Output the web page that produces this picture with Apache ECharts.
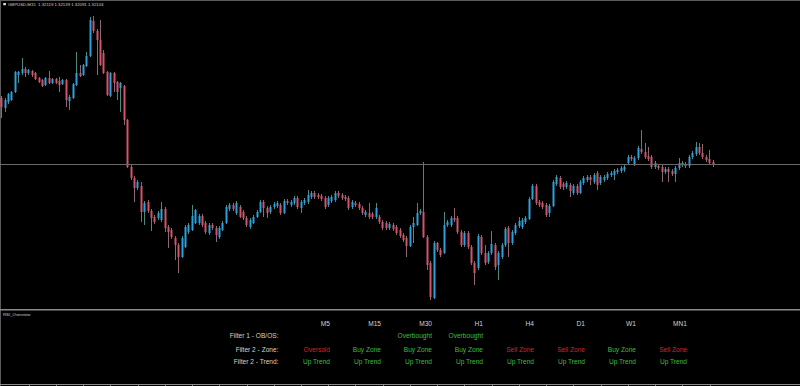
<!DOCTYPE html>
<html><head><meta charset="utf-8">
<script src="https://cdn.jsdelivr.net/npm/echarts@6/dist/echarts.min.js"></script>
<style>html,body{margin:0;padding:0;background:#000;}#c{width:800px;height:386px;}</style>
</head><body><div id="c"></div>
<script>
// ---- Data (GBPUSD M15 bars) ----
const openP = [
1.32402,1.32392,1.32398,1.32400,1.32408,1.32425,1.32427,1.32431,1.32427,1.32429,
1.32427,1.32422,1.32420,1.32415,1.32422,1.32417,1.32421,1.32419,1.32416,1.32420,
1.32399,1.32402,1.32415,1.32427,1.32425,1.32434,1.32444,1.32479,1.32469,1.32460,
1.32447,1.32428,1.32404,1.32427,1.32418,1.32412,1.32414,1.32380,1.32333,1.32322,
1.32312,1.32314,1.32288,1.32298,1.32289,1.32283,1.32282,1.32280,1.32291,1.32273,
1.32270,1.32262,1.32255,1.32243,1.32253,1.32268,1.32270,1.32277,1.32277,1.32284,
1.32277,1.32267,1.32275,1.32272,1.32263,1.32270,1.32277,1.32291,1.32295,1.32287,
1.32293,1.32288,1.32282,1.32273,1.32277,1.32283,1.32288,1.32298,1.32292,1.32288,
1.32293,1.32294,1.32295,1.32287,1.32299,1.32295,1.32297,1.32302,1.32292,1.32297,
1.32298,1.32303,1.32307,1.32305,1.32304,1.32302,1.32295,1.32299,1.32300,1.32307,
1.32305,1.32303,1.32302,1.32293,1.32297,1.32296,1.32292,1.32285,1.32287,1.32286,
1.32283,1.32283,1.32278,1.32277,1.32272,1.32275,1.32273,1.32270,1.32265,1.32262,
1.32254,1.32273,1.32275,1.32287,1.32288,1.32263,1.32237,1.32202,1.32257,1.32250,
1.32247,1.32275,1.32275,1.32282,1.32282,1.32268,1.32255,1.32267,1.32253,1.32237,
1.32232,1.32263,1.32247,1.32238,1.32247,1.32255,1.32235,1.32243,1.32255,1.32272,
1.32257,1.32267,1.32274,1.32273,1.32278,1.32281,1.32301,1.32314,1.32298,1.32297,
1.32295,1.32287,1.32294,1.32316,1.32322,1.32316,1.32313,1.32315,1.32307,1.32314,
1.32307,1.32317,1.32320,1.32323,1.32318,1.32327,1.32317,1.32320,1.32322,1.32325,
1.32325,1.32328,1.32329,1.32330,1.32337,1.32343,1.32336,1.32342,1.32351,1.32348,
1.32344,1.32343,1.32333,1.32334,1.32333,1.32328,1.32331,1.32329,1.32326,1.32332,
1.32335,1.32336,1.32334,1.32343,1.32346,1.32353,1.32347,1.32343,1.32341,1.32338];
const closeP = [
1.32393,1.32400,1.32406,1.32408,1.32428,1.32428,1.32431,1.32427,1.32430,1.32425,
1.32421,1.32418,1.32414,1.32422,1.32417,1.32421,1.32417,1.32415,1.32420,1.32400,
1.32403,1.32416,1.32427,1.32424,1.32435,1.32444,1.32480,1.32469,1.32460,1.32435,
1.32427,1.32405,1.32427,1.32417,1.32408,1.32417,1.32380,1.32333,1.32322,1.32312,
1.32318,1.32288,1.32297,1.32289,1.32282,1.32278,1.32287,1.32291,1.32272,1.32268,
1.32263,1.32255,1.32243,1.32262,1.32273,1.32275,1.32284,1.32290,1.32284,1.32275,
1.32268,1.32275,1.32272,1.32265,1.32272,1.32277,1.32293,1.32295,1.32291,1.32297,
1.32283,1.32282,1.32275,1.32280,1.32283,1.32288,1.32298,1.32292,1.32287,1.32293,
1.32296,1.32297,1.32287,1.32299,1.32297,1.32298,1.32302,1.32293,1.32298,1.32300,
1.32305,1.32307,1.32303,1.32303,1.32301,1.32293,1.32302,1.32303,1.32307,1.32304,
1.32302,1.32301,1.32292,1.32298,1.32295,1.32292,1.32287,1.32288,1.32283,1.32283,
1.32292,1.32278,1.32272,1.32272,1.32276,1.32271,1.32267,1.32264,1.32260,1.32254,
1.32273,1.32277,1.32287,1.32289,1.32263,1.32235,1.32203,1.32257,1.32250,1.32245,
1.32275,1.32278,1.32282,1.32280,1.32268,1.32255,1.32267,1.32253,1.32237,1.32227,
1.32264,1.32247,1.32237,1.32247,1.32256,1.32233,1.32247,1.32255,1.32271,1.32257,
1.32268,1.32275,1.32279,1.32280,1.32282,1.32301,1.32314,1.32297,1.32295,1.32293,
1.32285,1.32294,1.32318,1.32323,1.32313,1.32313,1.32317,1.32309,1.32314,1.32307,
1.32318,1.32322,1.32323,1.32320,1.32325,1.32315,1.32323,1.32323,1.32326,1.32327,
1.32329,1.32330,1.32332,1.32333,1.32343,1.32341,1.32342,1.32352,1.32348,1.32343,
1.32341,1.32333,1.32337,1.32332,1.32328,1.32331,1.32328,1.32326,1.32332,1.32337,
1.32337,1.32334,1.32343,1.32347,1.32353,1.32347,1.32343,1.32340,1.32337,1.32336];
const highP = [
1.32404,1.32402,1.32407,1.32409,1.32429,1.32429,1.32442,1.32433,1.32431,1.32430,
1.32428,1.32423,1.32421,1.32423,1.32429,1.32422,1.32422,1.32423,1.32421,1.32421,
1.32405,1.32417,1.32448,1.32435,1.32436,1.32448,1.32483,1.32484,1.32471,1.32480,
1.32450,1.32429,1.32428,1.32428,1.32419,1.32418,1.32415,1.32381,1.32335,1.32324,
1.32320,1.32318,1.32299,1.32300,1.32291,1.32285,1.32289,1.32298,1.32293,1.32275,
1.32272,1.32264,1.32257,1.32264,1.32275,1.32277,1.32295,1.32291,1.32286,1.32286,
1.32279,1.32277,1.32277,1.32274,1.32274,1.32279,1.32295,1.32297,1.32297,1.32299,
1.32295,1.32290,1.32284,1.32282,1.32285,1.32290,1.32300,1.32300,1.32294,1.32295,
1.32298,1.32299,1.32297,1.32301,1.32301,1.32300,1.32304,1.32304,1.32300,1.32302,
1.32310,1.32309,1.32309,1.32307,1.32306,1.32304,1.32304,1.32305,1.32309,1.32309,
1.32307,1.32305,1.32304,1.32300,1.32299,1.32298,1.32294,1.32290,1.32297,1.32288,
1.32297,1.32285,1.32280,1.32279,1.32278,1.32277,1.32275,1.32272,1.32267,1.32264,
1.32275,1.32283,1.32297,1.32291,1.32338,1.32265,1.32239,1.32259,1.32258,1.32252,
1.32288,1.32280,1.32284,1.32292,1.32284,1.32270,1.32269,1.32269,1.32255,1.32239,
1.32266,1.32265,1.32255,1.32249,1.32269,1.32257,1.32249,1.32257,1.32273,1.32274,
1.32270,1.32277,1.32283,1.32282,1.32284,1.32303,1.32316,1.32316,1.32300,1.32299,
1.32297,1.32296,1.32320,1.32325,1.32324,1.32318,1.32319,1.32317,1.32316,1.32316,
1.32320,1.32324,1.32325,1.32325,1.32327,1.32329,1.32325,1.32325,1.32328,1.32329,
1.32331,1.32332,1.32334,1.32335,1.32345,1.32345,1.32344,1.32354,1.32370,1.32357,
1.32353,1.32345,1.32339,1.32336,1.32335,1.32333,1.32333,1.32331,1.32334,1.32342,
1.32339,1.32338,1.32345,1.32349,1.32358,1.32357,1.32356,1.32345,1.32350,1.32340];
const lowP = [
1.32382,1.32388,1.32396,1.32399,1.32407,1.32417,1.32425,1.32423,1.32425,1.32423,
1.32420,1.32417,1.32413,1.32414,1.32416,1.32416,1.32416,1.32408,1.32415,1.32393,
1.32390,1.32401,1.32414,1.32423,1.32424,1.32433,1.32443,1.32467,1.32425,1.32434,
1.32426,1.32404,1.32403,1.32408,1.32400,1.32388,1.32375,1.32332,1.32320,1.32298,
1.32310,1.32278,1.32275,1.32287,1.32269,1.32276,1.32280,1.32278,1.32268,1.32252,
1.32261,1.32240,1.32227,1.32242,1.32252,1.32266,1.32269,1.32276,1.32275,1.32273,
1.32266,1.32265,1.32270,1.32258,1.32261,1.32269,1.32276,1.32289,1.32289,1.32285,
1.32282,1.32280,1.32273,1.32271,1.32276,1.32282,1.32287,1.32283,1.32282,1.32286,
1.32291,1.32292,1.32285,1.32286,1.32295,1.32293,1.32295,1.32291,1.32287,1.32295,
1.32296,1.32301,1.32301,1.32301,1.32299,1.32291,1.32293,1.32297,1.32298,1.32302,
1.32300,1.32299,1.32290,1.32291,1.32293,1.32290,1.32285,1.32283,1.32281,1.32281,
1.32281,1.32276,1.32270,1.32270,1.32270,1.32269,1.32265,1.32262,1.32258,1.32243,
1.32253,1.32257,1.32274,1.32285,1.32262,1.32230,1.32200,1.32201,1.32248,1.32243,
1.32246,1.32273,1.32273,1.32278,1.32266,1.32253,1.32253,1.32251,1.32235,1.32215,
1.32230,1.32245,1.32235,1.32236,1.32245,1.32230,1.32220,1.32241,1.32253,1.32243,
1.32255,1.32265,1.32272,1.32271,1.32276,1.32280,1.32300,1.32295,1.32293,1.32291,
1.32283,1.32283,1.32293,1.32314,1.32311,1.32310,1.32311,1.32303,1.32305,1.32305,
1.32306,1.32315,1.32318,1.32315,1.32316,1.32310,1.32315,1.32318,1.32320,1.32323,
1.32320,1.32326,1.32327,1.32328,1.32335,1.32339,1.32334,1.32340,1.32346,1.32341,
1.32339,1.32331,1.32331,1.32330,1.32318,1.32326,1.32318,1.32324,1.32318,1.32330,
1.32333,1.32332,1.32332,1.32341,1.32344,1.32345,1.32341,1.32338,1.32335,1.32333];

const symbolHeader = 'GBPUSD,M15  1.32119 1.32139 1.32091 1.32103';
const panelName = 'RSI_Overview';
const timeframes = ['M5','M15','M30','H1','H4','D1','W1','MN1'];
const rowLabels = ['Filter 1 - OB/OS:','Filter 2 - Zone:','Filter 2 - Trend:'];
const filter1 = ['','','Overbought','Overbought','','','',''];
const filter2Zone = ['Oversold','Buy Zone','Buy Zone','Buy Zone','Sell Zone','Sell Zone','Buy Zone','Sell Zone'];
const filter2Trend = ['Up Trend','Up Trend','Up Trend','Up Trend','Up Trend','Up Trend','Up Trend','Up Trend'];
const slotCount = 235;
const barSlots = Array.from({length: slotCount}, (_, k) => String(k));

// ---- Styles ----
const BULL = '#2ba2df', BEAR = '#d3536a', WICK_UP = '#4a8a80', WICK_DN = '#8e6870';
const GREEN = '#3cbf3c', RED = '#d42424', TXT = '#d2d2d2';
const statusColor = s => (s === 'Oversold' || s === 'Sell Zone') ? RED : GREEN;

const candles = openP.map((o, i) => [i, o, closeP[i], lowP[i], highP[i]]);
const lastClose = closeP[closeP.length - 1];

const FONT = '6.6px Arial, "Liberation Sans", sans-serif';
function txt(text, x, y, fill, align, font) {
  return { type: 'text', silent: true, z: 10,
    style: { text, x, y, fill, font: font || FONT, align, textAlign: align, verticalAlign: 'middle', textVerticalAlign: 'middle' } };
}
const graphics = [];
// borders
graphics.push({ type: 'line', silent: true, shape: {x1: 0, y1: 0.5, x2: 800, y2: 0.5}, style: {stroke: '#5a5a5a', lineWidth: 1} });
graphics.push({ type: 'line', silent: true, shape: {x1: 0.5, y1: 0, x2: 0.5, y2: 386}, style: {stroke: '#5a5a5a', lineWidth: 1} });
graphics.push({ type: 'line', silent: true, shape: {x1: 0, y1: 309.8, x2: 800, y2: 309.8}, style: {stroke: '#8a8a8a', lineWidth: 1.6} });
// header
graphics.push({ type: 'rect', silent: true, shape: {x: 3.3, y: 3, width: 2.6, height: 2.2}, style: {fill: '#e0e0e0'} });
graphics.push(txt(symbolHeader, 8, 4.3, '#cfcfcf', 'left', '4.3px Arial, "Liberation Sans", sans-serif'));
graphics.push(txt(panelName, 3, 314.6, '#cfcfcf', 'left', '4.3px Arial, "Liberation Sans", sans-serif'));
// table
const colRight = x => 330 + x * 51;
const rowY = [323.3, 335.8, 349, 361.8];
timeframes.forEach((tf, k) => graphics.push(txt(tf, colRight(k), rowY[0], TXT, 'right')));
rowLabels.forEach((lb, r) => graphics.push(txt(lb, 278.5, rowY[r + 1], TXT, 'right')));
[filter1, filter2Zone, filter2Trend].forEach((row, r) => row.forEach((s, k) => {
  if (s) graphics.push(txt(s, colRight(k), rowY[r + 1], statusColor(s), 'right'));
}));

const chart = echarts.init(document.getElementById('c'), null, {renderer: 'svg'});
chart.setOption({
  backgroundColor: '#000',
  animation: false,
  grid: [
    {left: 0, right: 0, top: 2, bottom: 77},
    {left: 0, right: 0, top: 312, bottom: 2}
  ],
  xAxis: [
    {type: 'category', gridIndex: 0, data: barSlots, boundaryGap: true, show: false},
    {type: 'category', gridIndex: 1, data: barSlots, boundaryGap: true,
     axisLine: {show: true, lineStyle: {color: '#8a8a8a', width: 1}},
     axisTick: {show: true, alignWithLabel: true, length: 2, lineStyle: {color: '#8a8a8a'},
       interval: (idx) => idx > 0 && idx % 8 === 0 && idx <= 208},
     axisLabel: {show: false}, splitLine: {show: false}}
  ],
  yAxis: [
    {type: 'value', gridIndex: 0, min: 1.32191, max: 1.32498, show: false, splitLine: {show: false}},
    {type: 'value', gridIndex: 1, min: 0, max: 100, show: false, splitLine: {show: false}}
  ],
  series: [
    {
      type: 'custom', xAxisIndex: 0, yAxisIndex: 0, data: candles, z: 2,
      encode: {x: 0, y: [1, 2, 3, 4]},
      renderItem: (params, api) => {
        const i = api.value(0), o = api.value(1), c = api.value(2), l = api.value(3), h = api.value(4);
        const pO = api.coord([i, o]), pC = api.coord([i, c]), pL = api.coord([i, l]), pH = api.coord([i, h]);
        const x = Math.round(pO[0] - 0.5);
        const up = c >= o;
        const top = Math.min(pO[1], pC[1]), bot = Math.max(pO[1], pC[1]);
        return {type: 'group', children: [
          {type: 'line', shape: {x1: x + 0.5, y1: pH[1], x2: x + 0.5, y2: pL[1]}, style: {stroke: up ? WICK_UP : WICK_DN, lineWidth: 1}},
          {type: 'rect', shape: {x: x - 0.5, y: top, width: 2, height: Math.max(1, bot - top)}, style: {fill: up ? BULL : BEAR}}
        ]};
      }
    },
    {type: 'line', xAxisIndex: 1, yAxisIndex: 1, data: [], silent: true}
  ],
  graphic: graphics
});

// Bid price line: position taken from the chart's own y scale
const bidY = Math.round(chart.convertToPixel({yAxisIndex: 0}, lastClose)) + 0.5;
graphics.push({ type: 'line', silent: true, z: 5, shape: {x1: 0, y1: bidY, x2: 800, y2: bidY}, style: {stroke: '#6a6a6a', lineWidth: 1} });
chart.setOption({graphic: graphics}, {replaceMerge: ['graphic']});
</script>
</body></html>
